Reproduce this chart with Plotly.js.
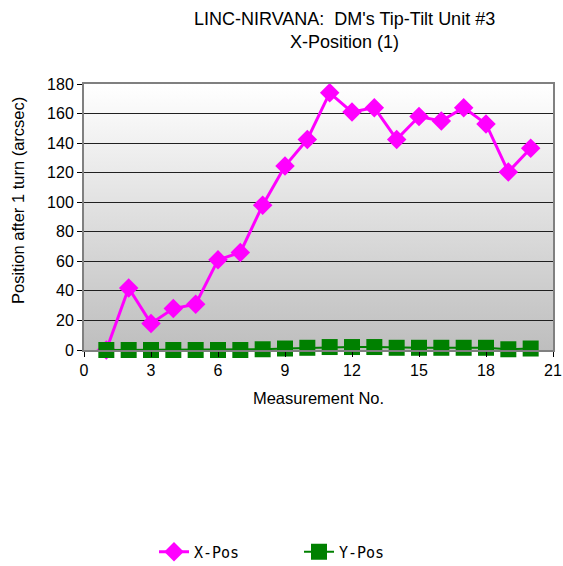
<!DOCTYPE html>
<html>
<head>
<meta charset="utf-8">
<script src="https://cdn.plot.ly/plotly-3.0.1.min.js"></script>
<style>html,body{margin:0;padding:0;background:#fff;}#chart{width:563px;height:566px;}</style>
</head>
<body>
<div id="chart"></div>
<script>
const measurement = [1,2,3,4,5,6,7,8,9,10,11,12,13,14,15,16,17,18,19,20];
const xPos = [0,42,18,28,31,61,66,98,124.5,142.5,174,161,164,142.5,158,155,164,153,120.5,136.5];
const yPos = [0,0,0,0,0,0,0,0.5,1,1.5,2,2,2,1.5,1.5,1.5,1.5,1.5,0.5,1];
const titleText = "LINC-NIRVANA:  DM's Tip-Tilt Unit #3<br>X-Position (1)";
const xTitle = 'Measurement No.';
const yTitle = 'Position after 1 turn (arcsec)';

const grad = 'data:image/svg+xml;utf8,' + encodeURIComponent(
  '<svg xmlns="http://www.w3.org/2000/svg" width="100" height="100" preserveAspectRatio="none">' +
  '<defs><linearGradient id="g" x1="0" y1="0" x2="0" y2="1">' +
  '<stop offset="0" stop-color="#ffffff"/><stop offset="1" stop-color="#bebebe"/></linearGradient></defs>' +
  '<rect width="100" height="100" fill="url(#g)"/></svg>');

const traces = [
  {x: measurement, y: xPos, name: 'X-Pos', type: 'scatter', mode: 'lines+markers', cliponaxis: false,
   line: {color: '#ff00ff', width: 3}, marker: {symbol: 'diamond', size: 15, color: '#ff00ff'}},
  {x: measurement, y: yPos, name: 'Y-Pos', type: 'scatter', mode: 'lines+markers', cliponaxis: false,
   line: {color: '#008000', width: 2}, marker: {symbol: 'square', size: 16, color: '#008000'}}
];

const F = 'Liberation Sans, Arial, sans-serif';
const layout = {
  width: 563, height: 566,
  margin: {l: 84, r: 10, t: 84, b: 216, autoexpand: false},
  paper_bgcolor: '#ffffff',
  plot_bgcolor: 'rgba(0,0,0,0)',
  font: {family: F, color: '#000', size: 16},
  xaxis: {range: [0, 21], dtick: 3, tick0: 0, showgrid: false, zeroline: false,
          ticks: 'outside', ticklen: 5, tickcolor: '#000',
          showline: true, linecolor: '#808080', linewidth: 2, mirror: true,
          tickfont: {size: 16},
          title: {text: xTitle, font: {size: 16.5}, standoff: 14}},
  yaxis: {range: [0, 180], dtick: 20, tick0: 0, showgrid: true, gridcolor: '#202020', gridwidth: 1,
          zeroline: false, ticks: 'outside', ticklen: 5, tickcolor: '#000',
          showline: true, linecolor: '#808080', linewidth: 2, mirror: true,
          tickfont: {size: 16}},
  annotations: [
    {text: titleText, xref: 'paper', yref: 'paper', x: (344.5-84)/469, y: (350-7)/266,
     xanchor: 'center', yanchor: 'top', showarrow: false, font: {size: 18}},
    {text: yTitle, xref: 'paper', yref: 'paper', x: (18-84)/469, y: (350-201)/266,
     xanchor: 'center', yanchor: 'middle', textangle: -90, showarrow: false, font: {size: 16.5}}
  ],
  images: [{source: grad, xref: 'paper', yref: 'paper', x: 0, y: 1, sizex: 1, sizey: 1,
            sizing: 'stretch', xanchor: 'left', yanchor: 'top', layer: 'below'}],
  showlegend: true,
  legend: {orientation: 'h', x: (154-84)/469, xanchor: 'left', y: (350-552)/266, yanchor: 'middle',
           entrywidth: 100, entrywidthmode: 'pixels',
           font: {size: 15, family: 'DejaVu Sans Mono, monospace'},
           bgcolor: 'rgba(0,0,0,0)'}
};

Plotly.newPlot('chart', traces, layout, {displayModeBar: false, staticPlot: true});
</script>
</body>
</html>
